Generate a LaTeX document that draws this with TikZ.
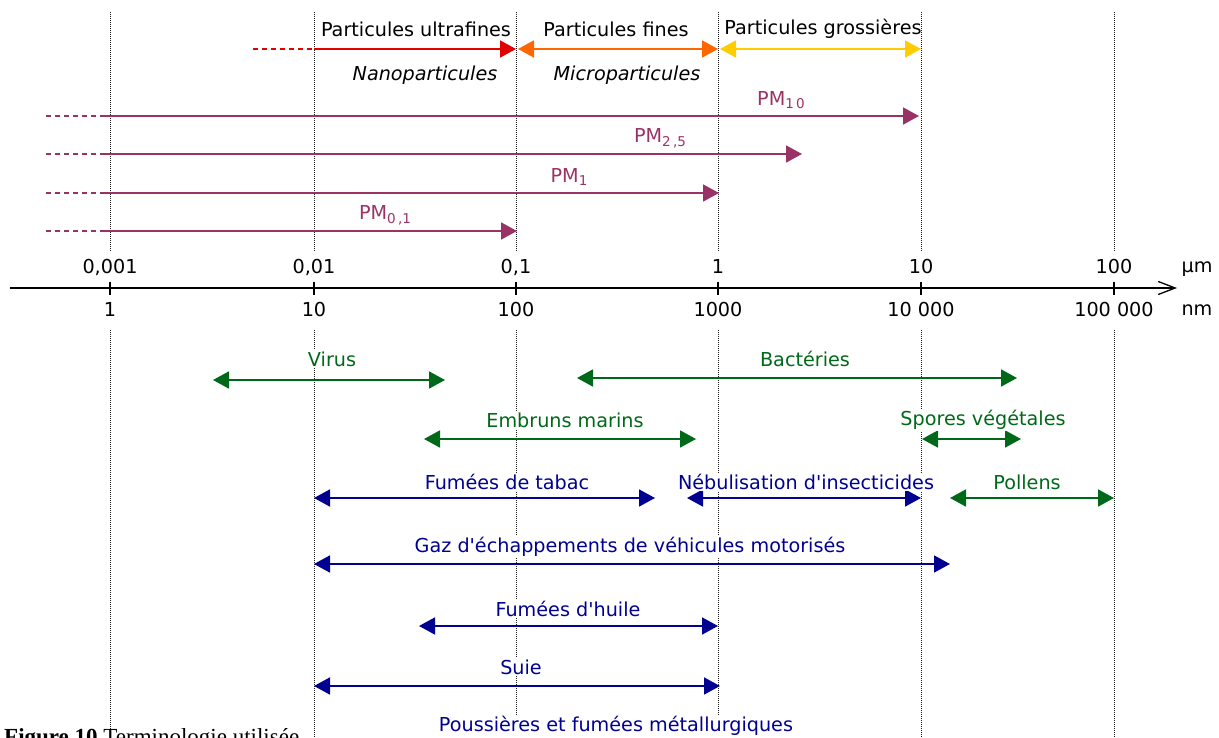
\documentclass[tikz,border=0pt]{standalone}
\usepackage{fontspec}
\setmainfont{DejaVu Sans}
\newfontfamily\capfont{Liberation Serif}
\usetikzlibrary{arrows.meta}

\definecolor{pmcol}{RGB}{153,51,102}
\definecolor{ufcol}{RGB}{224,0,0}
\definecolor{fincol}{RGB}{255,102,0}
\definecolor{grocol}{RGB}{255,204,0}
\definecolor{biocol}{RGB}{0,105,25}
\definecolor{antcol}{RGB}{0,0,145}
\newcommand{\pmsub}[1]{\raisebox{-0.35ex}{\fontsize{13.5}{14}\selectfont #1}}
\newcommand{\ap}{\textquotesingle}

\begin{document}
\begin{tikzpicture}[
        x=1pt, y=-1pt,
        font=\fontsize{19.2}{21}\selectfont,
        >={Triangle[length=16pt,width=17pt]},
        grid/.style={line width=0.9pt, dash pattern=on 1pt off 1pt, black!90},
        axis/.style={line width=1.3pt, -{Straight Barb[length=17pt,width=13pt]}},
        span/.style={line width=1.8pt},
        dashline/.style={line width=1.8pt, dash pattern=on 5pt off 4pt},
        tag/.style={fill=white, inner sep=1.5pt}
    ]
        \useasboundingbox (0,0) rectangle (1219,738);

        % decades
        \foreach \x in {110,314,516,718,921,1114} {
            \draw[grid] (\x,12) -- (\x,252);
            \draw[grid] (\x,330) -- (\x,738);
        }

        % size axis
        \coordinate (axL) at (10,288);
        \coordinate (axR) at (1177,288);
        \draw[axis] (axL) -- (axR);
        \foreach \x/\um/\nm [count=\i] in {110/{0,001}/1, 314/{0,01}/10, 516/{0,1}/100,
                718/1/1000, 921/10/{10 000}, 1114/100/{100 000}} {
            \draw[line width=1.3pt] (\x,282) -- (\x,295);
            \node (um\i) at (\x,267) {\um};
            \node (nm\i) at (\x,310) {\nm};
        }
        \node (umunit) at (1197,269) {µm};
        \node (nmunit) at (1197,310) {nm};

        % fractions
        \coordinate (ufS) at (253,49);
        \coordinate (ufA) at (314,49);
        \coordinate (ufB) at (516,49);
        \coordinate (fiA) at (518,49);
        \coordinate (fiB) at (718,49);
        \coordinate (grA) at (720,49);
        \coordinate (grB) at (921,49);
        \draw[dashline, ufcol] (ufS) -- (ufA);
        \draw[span, ufcol, ->] (ufA) -- (ufB);
        \draw[span, fincol, <->] (fiA) -- (fiB);
        \draw[span, grocol, <->] (grA) -- (grB);
        \node (ultra) at (416,29) {Particules ultrafines};
        \node (fines) at (616,29) {Particules fines};
        \node (gross) at (823,29) {Particules grossières};
        \node (nano) at (425,75) {\itshape Nanoparticules};
        \node (micro) at (627,75) {\itshape Microparticules};

        % PM classes
        \foreach \y/\tip/\name in {116/919/pm10, 154/802/pm25, 193/719/pm1, 231/517/pm01} {
            \coordinate (\name S) at (46,\y);
            \coordinate (\name A) at (100,\y);
            \coordinate (\name B) at (\tip,\y);
            \draw[dashline, pmcol] (\name S) -- (\name A);
            \draw[span, pmcol, ->] (\name A) -- (\name B);
        }
        \node[text=pmcol] (pm10) at (781,100) {PM\pmsub{1\,0}};
        \node[text=pmcol] (pm25) at (660,138) {PM\pmsub{2\,,5}};
        \node[text=pmcol] (pm1) at (569,177) {PM\pmsub{1}};
        \node[text=pmcol] (pm01) at (385,215) {PM\pmsub{0\,,1}};

        % natural particles
        \coordinate (virA) at (213,380);  \coordinate (virB) at (445,380);
        \coordinate (bacA) at (577,378);  \coordinate (bacB) at (1017,378);
        \coordinate (embA) at (424,439);  \coordinate (embB) at (696,439);
        \coordinate (spoA) at (922,439);  \coordinate (spoB) at (1021,439);
        \coordinate (polA) at (950,498);  \coordinate (polB) at (1114,498);
        \draw[span, biocol, <->] (virA) -- (virB);
        \draw[span, biocol, <->] (bacA) -- (bacB);
        \draw[span, biocol, <->] (embA) -- (embB);
        \draw[span, biocol, <->] (spoA) -- (spoB);
        \draw[span, biocol, <->] (polA) -- (polB);
        \node[tag, text=biocol] (virus) at (332,359) {Virus};
        \node[tag, text=biocol] (bact) at (805,359) {Bactéries};
        \node[tag, text=biocol] (embr) at (565,420) {Embruns marins};
        \node[tag, text=biocol] (spor) at (983,420) {Spores végétales};
        \node[tag, text=biocol] (poll) at (1027,482) {Pollens};

        % human sources
        \coordinate (tabA) at (314,498);  \coordinate (tabB) at (655,498);
        \coordinate (nebA) at (687,498);  \coordinate (nebB) at (921,498);
        \coordinate (gazA) at (314,564);  \coordinate (gazB) at (950,564);
        \coordinate (huiA) at (419,626);  \coordinate (huiB) at (718,626);
        \coordinate (suiA) at (314,686);  \coordinate (suiB) at (720,686);
        \draw[span, antcol, <->] (tabA) -- (tabB);
        \draw[span, antcol, <->] (nebA) -- (nebB);
        \draw[span, antcol, <->] (gazA) -- (gazB);
        \draw[span, antcol, <->] (huiA) -- (huiB);
        \draw[span, antcol, <->] (suiA) -- (suiB);
        \node[tag, text=antcol] (tabac) at (507,482) {Fumées de tabac};
        \node[tag, text=antcol] (nebul) at (806,482) {Nébulisation d\ap insecticides};
        \node[tag, text=antcol] (gaz) at (630,547) {Gaz d\ap échappements de véhicules motorisés};
        \node[tag, text=antcol] (huile) at (568,609) {Fumées d\ap huile};
        \node[tag, text=antcol] (suie) at (521,667) {Suie};
        \node[tag, text=antcol] (metal) at (616,726) {Poussières et fumées métallurgiques};

        % caption, cut by the page edge as in the source
        \node[anchor=base west, inner sep=0pt, font=\capfont\fontsize{23}{24}\selectfont] (caption)
            at (4,744) {\textbf{Figure 10} Terminologie utilisée};
    \end{tikzpicture}
\end{document}
